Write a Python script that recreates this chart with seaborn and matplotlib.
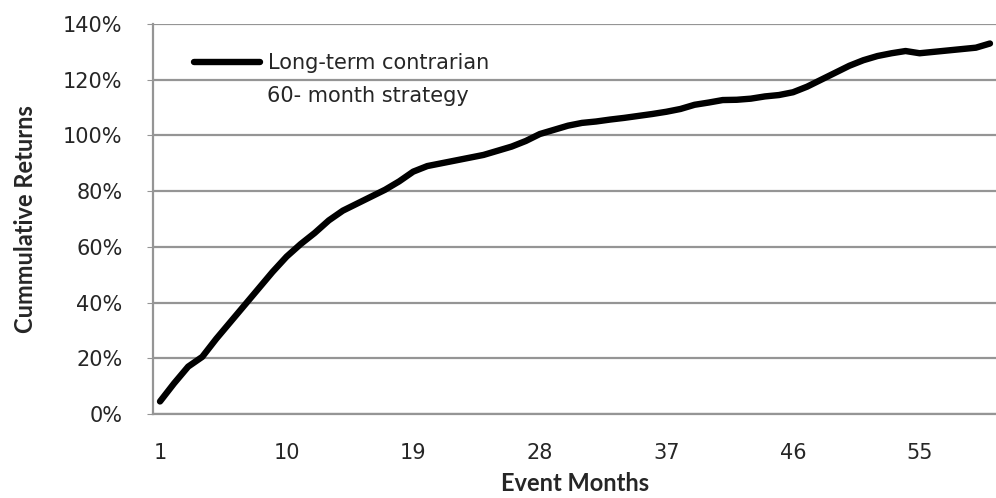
import numpy as np
import pandas as pd
import matplotlib
matplotlib.use("Agg")
import matplotlib.pyplot as plt
import seaborn as sns
from matplotlib.ticker import FixedLocator, PercentFormatter

# ==========================================
# DATA
# ==========================================

months = list(range(1, 61))
cum_returns = [
    4.5, 11, 17, 20.5, 27, 33, 39, 45, 51, 56.5,
    61, 65, 69.5, 73, 75.5, 78, 80.5, 83.5, 87, 89,
    90, 91, 92, 93, 94.5, 96, 98, 100.5, 102, 103.5,
    104.5, 105, 105.7, 106.3, 107, 107.7, 108.5, 109.5, 111, 111.8,
    112.7, 112.8, 113.2, 114, 114.5, 115.5, 117.5, 120, 122.5, 125,
    127, 128.5, 129.5, 130.3, 129.5, 130, 130.5, 131, 131.5, 133,
]
x_ticks = [1, 10, 19, 28, 37, 46, 55]
y_ticks = [0, 20, 40, 60, 80, 100, 120, 140]
label_line1 = "Long-term contrarian"
label_line2 = "60- month strategy"

df = pd.DataFrame({"Event Months": months, "Cumulative": cum_returns})

# ==========================================
# PLOT
# ==========================================

sns.set_style("white")
plt.rcParams["font.family"] = ["Lato", "DejaVu Sans"]

fig = plt.figure(figsize=(9.96, 4.98), dpi=100)
ax = fig.add_axes([0.1536, 0.1687, 0.8474, 0.7831])

sns.lineplot(data=df, x="Event Months", y="Cumulative", color="black",
             linewidth=4.6, label=label_line1, ax=ax, solid_capstyle="round")

ax.set_xlim(0.5, 60.5)
ax.set_ylim(0, 140)

ax.yaxis.set_major_locator(FixedLocator(y_ticks))
ax.yaxis.set_major_formatter(PercentFormatter(decimals=0))
ax.grid(axis="y", color="#959595", linewidth=1.6)
ax.set_axisbelow(True)

ax.set_xticks(x_ticks)
ax.set_xticks(np.arange(0.5, 61, 1), minor=True)
ax.tick_params(axis="x", which="major", length=0, pad=21)
ax.tick_params(axis="x", which="minor", length=4, color="#959595", width=1)
ax.tick_params(axis="y", which="major", length=4, color="#959595",
               pad=18, left=True)
for lab in ax.get_xticklabels() + ax.get_yticklabels():
    lab.set_family("DejaVu Sans")
    lab.set_fontsize(15)

for side in ["top", "right"]:
    ax.spines[side].set_visible(False)
for side in ["left", "bottom"]:
    ax.spines[side].set_color("#959595")
    ax.spines[side].set_linewidth(1.6)

ax.set_xlabel("Event Months", fontsize=17, fontweight="bold")
ax.set_ylabel("Cummulative Returns", fontsize=17, fontweight="bold")
ax.xaxis.set_label_coords(0.5, -0.148)
ax.yaxis.set_label_coords(-0.137, 0.5)

leg = ax.legend(loc="center left", bbox_to_anchor=(0.026, 0.9), frameon=False,
                prop={"family": "DejaVu Sans", "size": 15},
                handlelength=3.2, handletextpad=0.35, borderpad=0.4)

# second line of the legend label, under the first
ax.text(0.135, 0.815, label_line2, transform=ax.transAxes, va="center",
        ha="left", fontsize=15, family="DejaVu Sans")

fig.savefig("out.png", dpi=100)
plt.close()
